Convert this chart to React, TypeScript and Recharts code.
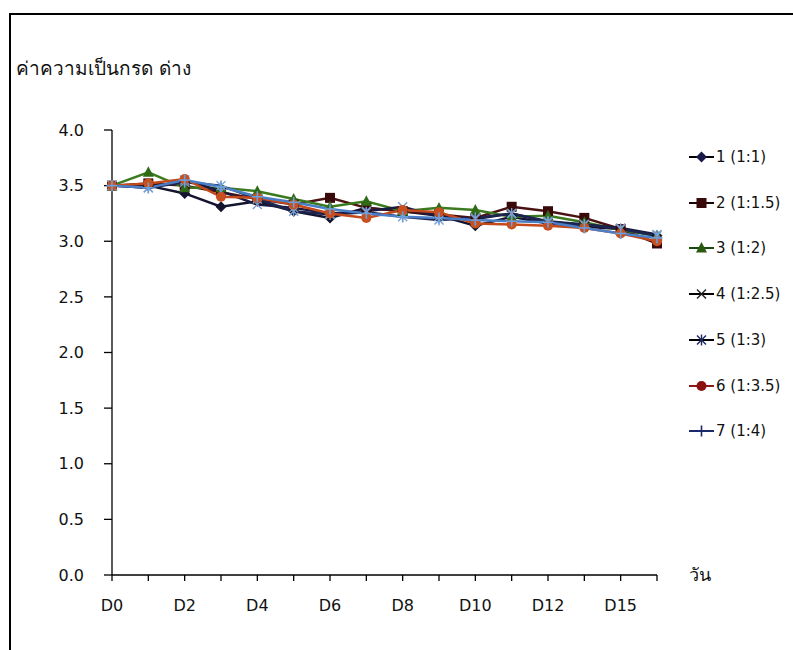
import { LineChart, Line, XAxis, YAxis } from 'recharts'

const days = ['D0', 'D1', 'D2', 'D3', 'D4', 'D5', 'D6', 'D7', 'D8', 'D9', 'D10', 'D11', 'D12', 'D14', 'D15', 'D16']
const yTicks = [0, 0.5, 1, 1.5, 2, 2.5, 3, 3.5, 4]

const s1 = [3.5, 3.5, 3.43, 3.31, 3.36, 3.27, 3.21, 3.3, 3.27, 3.23, 3.14, 3.22, 3.16, 3.13, 3.11, 3.05]
const s2 = [3.5, 3.52, 3.5, 3.44, 3.38, 3.33, 3.39, 3.3, 3.27, 3.24, 3.21, 3.31, 3.27, 3.21, 3.11, 2.98]
const s3 = [3.5, 3.62, 3.48, 3.48, 3.45, 3.38, 3.31, 3.36, 3.27, 3.3, 3.28, 3.22, 3.23, 3.17, 3.1, 3.05]
const s4 = [3.5, 3.48, 3.55, 3.45, 3.33, 3.3, 3.25, 3.27, 3.31, 3.22, 3.2, 3.25, 3.17, 3.15, 3.12, 3.06]
const s5 = [3.5, 3.48, 3.53, 3.5, 3.38, 3.27, 3.24, 3.26, 3.22, 3.19, 3.21, 3.25, 3.18, 3.15, 3.11, 3.05]
const s6 = [3.5, 3.52, 3.56, 3.4, 3.39, 3.33, 3.25, 3.21, 3.28, 3.26, 3.16, 3.15, 3.14, 3.12, 3.07, 3.0]
const s7 = [3.5, 3.48, 3.55, 3.49, 3.4, 3.35, 3.29, 3.25, 3.22, 3.21, 3.19, 3.18, 3.17, 3.12, 3.07, 3.03]

const seriesNames = ['1 (1:1)', '2 (1:1.5)', '3 (1:2)', '4 (1:2.5)', '5 (1:3)', '6 (1:3.5)', '7 (1:4)']

const data = days.map((d, i) => ({
  day: d,
  s1: s1[i], s2: s2[i], s3: s3[i], s4: s4[i], s5: s5[i], s6: s6[i], s7: s7[i],
}))

// plot colours vs legend colours differ a bit in the source picture
const series = [
  { key: 's1', shape: 'diamond', line: '#14142e', mark: '#14142e', legLine: '#000', legMark: '#1a1a4a' },
  { key: 's2', shape: 'square', line: '#4a1212', mark: '#3a0a0a', legLine: '#1a0505', legMark: '#3a0a0a' },
  { key: 's3', shape: 'triangle', line: '#3b7a1e', mark: '#2f6a14', legLine: '#1a4a10', legMark: '#2a5a10' },
  { key: 's4', shape: 'x', line: '#1a1a40', mark: '#7a9ac8', legLine: '#000', legMark: '#222' },
  { key: 's5', shape: 'star', line: '#1c2450', mark: '#7aa0d0', legLine: '#000', legMark: '#1a2a5a' },
  { key: 's6', shape: 'circle', line: '#c44a1c', mark: '#c8501e', legLine: '#8b1a1a', legMark: '#8b1010' },
  { key: 's7', shape: 'plus', line: '#4a7fc8', mark: '#6aa0e0', legLine: '#1a2a6a', legMark: '#1a2a6a' },
]

const font = '"DejaVu Sans", sans-serif'

function Marker({ cx, cy, shape, color }: any) {
  if (cx == null || cy == null) return <g />
  switch (shape) {
    case 'diamond':
      return <polygon points={`${cx},${cy - 5.5} ${cx + 5.5},${cy} ${cx},${cy + 5.5} ${cx - 5.5},${cy}`} fill={color} />
    case 'square':
      return <rect x={cx - 5} y={cy - 5} width={10} height={10} fill={color} />
    case 'triangle':
      return <polygon points={`${cx},${cy - 6} ${cx + 5.5},${cy + 4.5} ${cx - 5.5},${cy + 4.5}`} fill={color} />
    case 'circle':
      return <circle cx={cx} cy={cy} r={5} fill={color} />
    case 'x':
      return (
        <g stroke={color} strokeWidth={1.4}>
          <line x1={cx - 4.5} y1={cy - 4.5} x2={cx + 4.5} y2={cy + 4.5} />
          <line x1={cx - 4.5} y1={cy + 4.5} x2={cx + 4.5} y2={cy - 4.5} />
        </g>
      )
    case 'star':
      return (
        <g stroke={color} strokeWidth={1.4}>
          <line x1={cx - 4.5} y1={cy - 4.5} x2={cx + 4.5} y2={cy + 4.5} />
          <line x1={cx - 4.5} y1={cy + 4.5} x2={cx + 4.5} y2={cy - 4.5} />
          <line x1={cx} y1={cy - 5.5} x2={cx} y2={cy + 5.5} />
        </g>
      )
    default:
      return (
        <g stroke={color} strokeWidth={1.6}>
          <line x1={cx - 5.5} y1={cy} x2={cx + 5.5} y2={cy} />
          <line x1={cx} y1={cy - 5.5} x2={cx} y2={cy + 5.5} />
        </g>
      )
  }
}

function XTick({ x, y, payload }: any) {
  const i = days.indexOf(payload.value)
  if (i % 2 !== 0) return <g />
  return (
    <text x={x} y={y + 28} textAnchor="middle" fontSize={16} fontFamily={font} fill="#111">
      {payload.value}
    </text>
  )
}

export default function App() {
  return (
    <div style={{ position: 'absolute', left: 0, top: 0, width: 793, height: 650, background: '#fff', overflow: 'hidden', fontFamily: font }}>
      <div style={{ position: 'absolute', left: 9, top: 13, width: 820, height: 700, borderTop: '2px solid #000', borderLeft: '2px solid #000' }} />
      <div style={{ position: 'absolute', left: 16, top: 53, fontSize: 19, color: '#111', whiteSpace: 'nowrap' }}>
        ค่าความเป็นกรด ด่าง
      </div>
      <div style={{ position: 'absolute', left: 689, top: 560, fontSize: 18, color: '#111' }}>วัน</div>

      <div style={{ position: 'absolute', left: 0, top: 0 }}>
        <LineChart width={793} height={650} data={data} margin={{ top: 130, right: 136, bottom: 35, left: 12 }}>
          <XAxis
            dataKey="day"
            interval={0}
            tick={<XTick />}
            tickSize={6}
            stroke="#000"
            strokeWidth={1.3}
            tickLine={{ stroke: '#000' }}
            height={40}
          />
          <YAxis
            domain={[0, 4]}
            ticks={yTicks}
            width={100}
            tickSize={8}
            tickMargin={20}
            stroke="#000"
            strokeWidth={1.3}
            tickLine={{ stroke: '#000' }}
            tickFormatter={(v: number) => v.toFixed(1)}
            tick={{ fontSize: 16, fontFamily: font, fill: '#111' }}
          />
          {series.map(s => (
            <Line
              key={s.key}
              dataKey={s.key}
              stroke={s.line}
              strokeWidth={2.5}
              isAnimationActive={false}
              dot={(p: any) => <Marker key={`${s.key}-${p.index}`} cx={p.cx} cy={p.cy} shape={s.shape} color={s.mark} />}
              activeDot={false}
            />
          ))}
        </LineChart>
      </div>

      {series.map((s, i) => (
        <div key={s.key} style={{ position: 'absolute', left: 688, top: 148 + i * 45.7, height: 18, display: 'flex', alignItems: 'center', whiteSpace: 'nowrap' }}>
          <svg width={27} height={14} style={{ display: 'block' }}>
            <line x1={1} y1={7} x2={26} y2={7} stroke={s.legLine} strokeWidth={2} />
            <Marker cx={13.5} cy={7} shape={s.shape} color={s.legMark} />
          </svg>
          <span style={{ fontSize: 15, color: '#111', marginLeft: 1 }}>{seriesNames[i]}</span>
        </div>
      ))}
    </div>
  )
}
